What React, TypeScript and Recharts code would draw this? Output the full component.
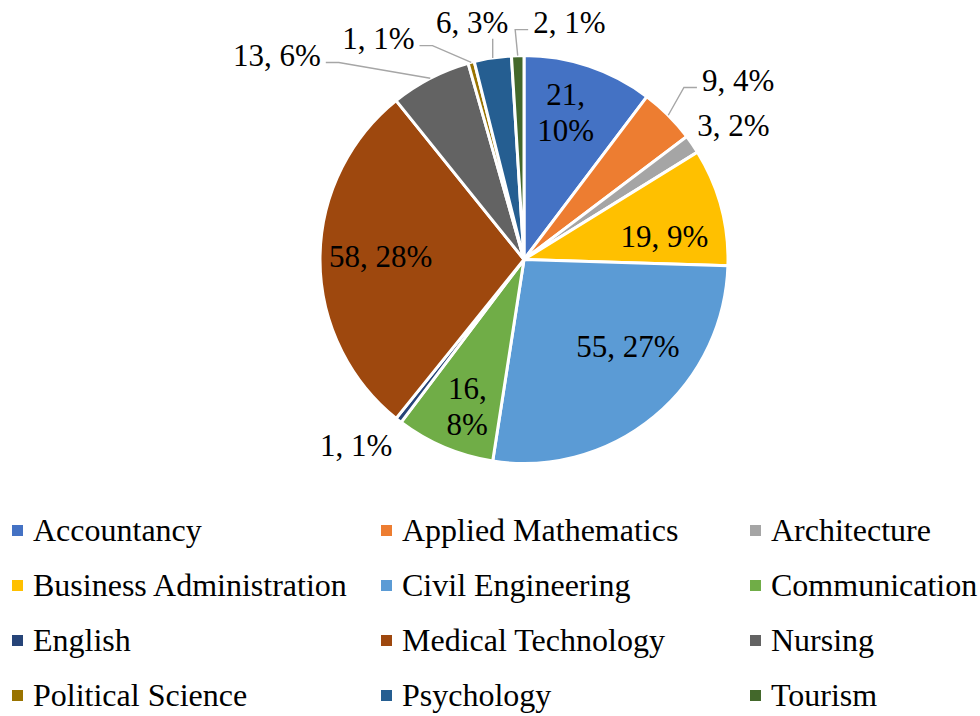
import React from "react";
import { PieChart, Pie, Cell, Legend } from "recharts";

const PROGRAMS = [
  "Accountancy",
  "Applied Mathematics",
  "Architecture",
  "Business Administration",
  "Civil Engineering",
  "Communication",
  "English",
  "Medical Technology",
  "Nursing",
  "Political Science",
  "Psychology",
  "Tourism",
];
const COUNTS = [21, 9, 3, 19, 55, 16, 1, 58, 13, 1, 6, 2];
const SHARES = ["10%", "4%", "2%", "9%", "27%", "8%", "1%", "28%", "6%", "1%", "3%", "1%"];

const COLORS = [
  "#4472C4",
  "#ED7D31",
  "#A5A5A5",
  "#FFC000",
  "#5B9BD5",
  "#70AD47",
  "#264478",
  "#9E480E",
  "#636363",
  "#997300",
  "#255E91",
  "#43682B",
];

// label placement per slice: radius factor, clockwise angle shift, two lines?, leader type
type LabelSpot = { r: number; shift: number; split?: boolean; leader?: "side" | "below" };
const LABEL_SPOTS: LabelSpot[] = [
  { r: 0.75, shift: -2.7, split: true },
  { r: 1.368, shift: 5.1, leader: "side" },
  { r: 1.22, shift: 1.7 },
  { r: 0.697, shift: 5.7 },
  { r: 0.663, shift: -10.5 },
  { r: 0.771, shift: -1.8, split: true },
  { r: 1.228, shift: 4.1 },
  { r: 0.703, shift: 1.2 },
  { r: 1.571, shift: -23.1, leader: "side" },
  { r: 1.297, shift: -18.4, leader: "side" },
  { r: 1.188, shift: -3.5, leader: "below" },
  { r: 1.182, shift: 12.6, leader: "side" },
];

const FONT = '"Liberation Serif", "Times New Roman", serif';
const LABEL_SIZE = 31;
const RAD = Math.PI / 180;

const chartData = PROGRAMS.map((name, i) => ({
  name,
  value: COUNTS[i],
  fill: COLORS[i],
}));

// rough Times advance widths, enough to place leader ends
function textWidth(s: string, size: number) {
  let w = 0;
  for (const ch of s) {
    if (ch === "%") w += 0.833;
    else if (ch === "," || ch === " ") w += 0.25;
    else w += 0.5;
  }
  return w * size;
}

function renderLabel(props: any) {
  const { cx, cy, midAngle, outerRadius, index } = props;
  const spot = LABEL_SPOTS[index];
  if (!spot) return null;
  const a = (midAngle - spot.shift) * RAD;
  const x = cx + outerRadius * spot.r * Math.cos(a);
  const y = cy - outerRadius * spot.r * Math.sin(a);
  const first = `${COUNTS[index]},`;
  const full = `${COUNTS[index]}, ${SHARES[index]}`;

  let leader: React.ReactNode = null;
  if (spot.leader) {
    const ex = cx + outerRadius * Math.cos(midAngle * RAD);
    const ey = cy - outerRadius * Math.sin(midAngle * RAD);
    let pts: string;
    if (spot.leader === "below") {
      pts = `${ex},${ey} ${ex},${y + 16}`;
    } else {
      const half = textWidth(full, LABEL_SIZE) / 2;
      const right = x > cx;
      const near = right ? x - half - 5 : x + half + 5;
      const elbow = right ? near - 13 : near + 13;
      const ly = y + 7;
      pts = `${ex},${ey} ${elbow},${ly} ${near},${ly}`;
    }
    leader = <polyline points={pts} fill="none" stroke="#A6A6A6" strokeWidth={1.4} />;
  }

  return (
    <g key={`lbl-${index}`}>
      {leader}
      {spot.split ? (
        <>
          <text x={x} y={y - 18} textAnchor="middle" dominantBaseline="central" fontSize={LABEL_SIZE} fontFamily={FONT} fill="#000">
            {first}
          </text>
          <text x={x} y={y + 18} textAnchor="middle" dominantBaseline="central" fontSize={LABEL_SIZE} fontFamily={FONT} fill="#000">
            {SHARES[index]}
          </text>
        </>
      ) : (
        <text x={x} y={y} textAnchor="middle" dominantBaseline="central" fontSize={LABEL_SIZE} fontFamily={FONT} fill="#000">
          {full}
        </text>
      )}
    </g>
  );
}

function renderLegend(props: any) {
  const items: any[] = props.payload ?? [];
  return (
    <div
      style={{
        display: "grid",
        gridTemplateColumns: "369px 369px 230px",
        paddingLeft: 12,
        fontFamily: FONT,
        fontSize: 32,
        color: "#000",
      }}
    >
      {items.map((item) => {
        const i = PROGRAMS.indexOf(item.value);
        return (
          <div key={item.value} style={{ display: "flex", alignItems: "center", height: 55, whiteSpace: "nowrap" }}>
            <span style={{ width: 11, height: 11, background: COLORS[i] ?? item.color, marginRight: 10, flex: "none" }} />
            <span style={{ lineHeight: "55px" }}>{item.value}</span>
          </div>
        );
      })}
    </div>
  );
}

export default function App() {
  return (
    <div style={{ position: "absolute", left: 0, top: 0, width: 980, height: 716, background: "#fff" }}>
      <PieChart width={980} height={716} margin={{ top: 0, right: 0, bottom: 0, left: 0 }}>
        <Pie
          data={chartData}
          dataKey="value"
          nameKey="name"
          cx={524}
          cy={259.5}
          innerRadius={0}
          outerRadius={204}
          startAngle={90}
          endAngle={-270}
          stroke="#fff"
          strokeWidth={3}
          label={renderLabel}
          labelLine={false}
          isAnimationActive={false}
        >
          {chartData.map((d) => (
            <Cell key={d.name} fill={d.fill} />
          ))}
        </Pie>
        <Legend
          content={renderLegend}
          wrapperStyle={{ position: "absolute", left: 0, top: 503, width: 980, height: 220 }}
        />
      </PieChart>
    </div>
  );
}
